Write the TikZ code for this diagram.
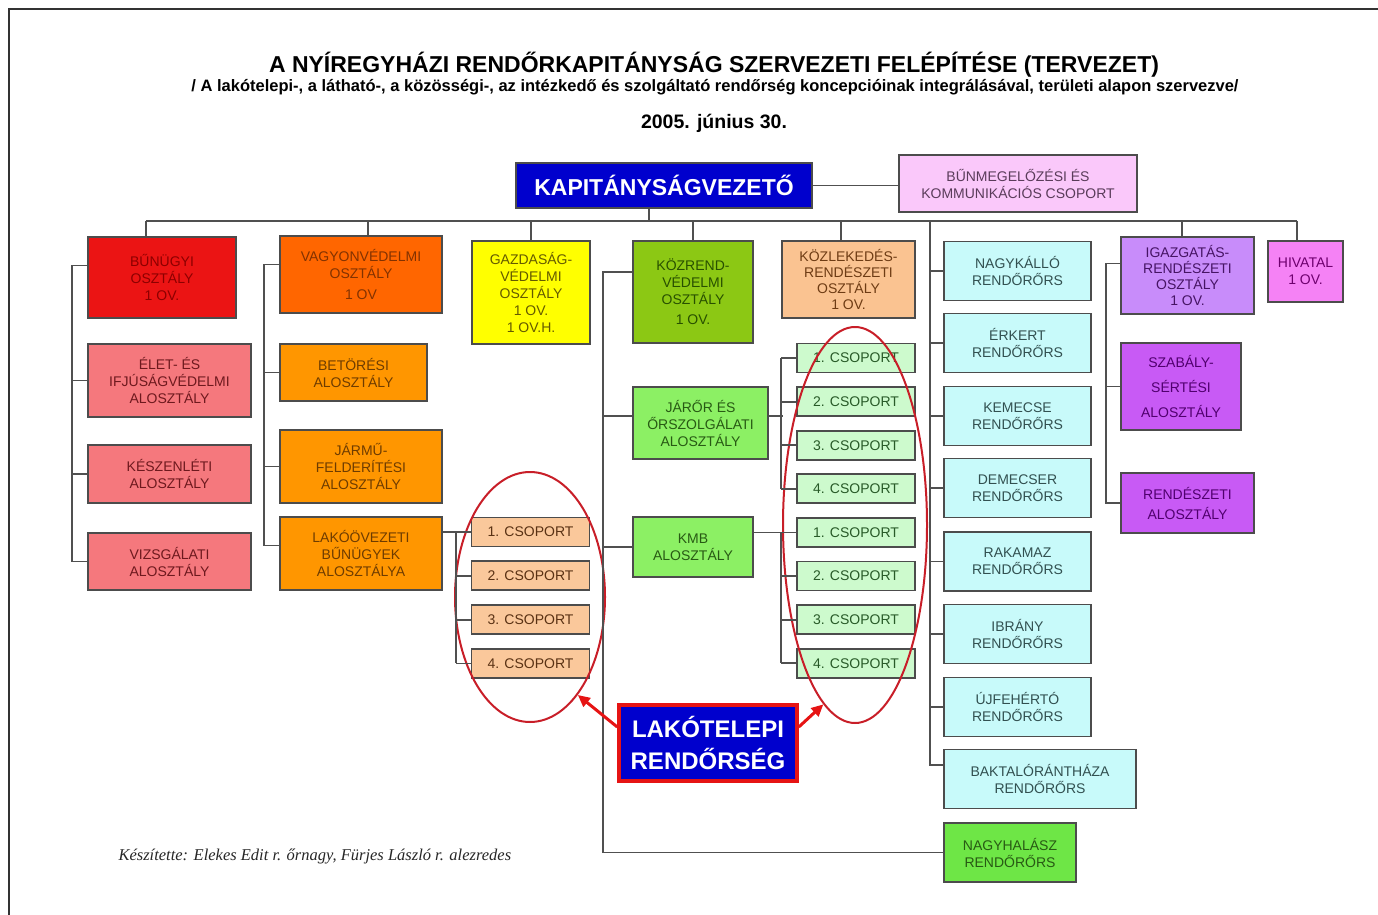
\documentclass[tikz,border=0pt]{standalone}
\usepackage{fontspec}
\setmainfont{Liberation Sans}
\newfontfamily\credfont{Liberation Serif}
\usetikzlibrary{positioning,
	shapes.geometric,
	arrows.meta}

\definecolor{kapcol}{RGB}{0,0,205}
\definecolor{bmkcol}{RGB}{250,200,250}
\definecolor{redcol}{RGB}{235,20,20}
\definecolor{salcol}{RGB}{245,120,125}
\definecolor{oracol}{RGB}{255,102,0}
\definecolor{orbcol}{RGB}{255,150,0}
\definecolor{yelcol}{RGB}{255,255,0}
\definecolor{olvcol}{RGB}{140,200,20}
\definecolor{lgrcol}{RGB}{140,240,100}
\definecolor{pchcol}{RGB}{250,195,145}
\definecolor{cyncol}{RGB}{200,250,250}
\definecolor{grncol}{RGB}{110,230,70}
\definecolor{lavcol}{RGB}{200,140,250}
\definecolor{viocol}{RGB}{200,90,245}
\definecolor{hivcol}{RGB}{245,130,245}
\definecolor{cslcol}{RGB}{250,200,155}
\definecolor{csrcol}{RGB}{205,250,205}
\definecolor{lncol}{RGB}{80,80,80}
\definecolor{ellcol}{RGB}{200,30,40}
\definecolor{arrcol}{RGB}{230,20,20}

\tikzstyle{bx}=[draw=black!70, line width=1.8pt, align=center, inner sep=0pt,
		font=\fontsize{14}{17}\selectfont]
\tikzstyle{kapb}=[bx, fill=kapcol, text=white, font=\bfseries\fontsize{23}{23}\selectfont]
\tikzstyle{lkt}=[bx, draw=arrcol, line width=3.5pt, fill=kapcol, text=white,
		font=\bfseries\fontsize{24}{32}\selectfont]
\tikzstyle{bmk}=[bx, fill=bmkcol, text={rgb,255:red,90;green,60;blue,90}]
\tikzstyle{bred}=[bx, fill=redcol, text={rgb,255:red,140;green,0;blue,0}]
\tikzstyle{salm}=[bx, fill=salcol, text={rgb,255:red,110;green,25;blue,30}]
\tikzstyle{ora}=[bx, fill=oracol, text={rgb,255:red,130;green,50;blue,0}]
\tikzstyle{orb}=[bx, fill=orbcol, text={rgb,255:red,110;green,60;blue,0}]
\tikzstyle{yel}=[bx, fill=yelcol, text={rgb,255:red,100;green,90;blue,0}]
\tikzstyle{olv}=[bx, fill=olvcol, text={rgb,255:red,40;green,80;blue,0}]
\tikzstyle{lgr}=[bx, fill=lgrcol, text={rgb,255:red,40;green,90;blue,20}]
\tikzstyle{pch}=[bx, fill=pchcol, text={rgb,255:red,110;green,60;blue,20}]
\tikzstyle{cyn}=[bx, fill=cyncol, text={rgb,255:red,50;green,80;blue,80},
		minimum width=147, minimum height=59]
\tikzstyle{grn}=[bx, fill=grncol, text={rgb,255:red,40;green,90;blue,20}]
\tikzstyle{lav}=[bx, fill=lavcol, text={rgb,255:red,70;green,20;blue,100}]
\tikzstyle{vio}=[bx, fill=viocol, text={rgb,255:red,80;green,0;blue,110}]
\tikzstyle{hiv}=[bx, fill=hivcol, text={rgb,255:red,110;green,0;blue,110}]
\tikzstyle{csl}=[bx, fill=cslcol, text={rgb,255:red,90;green,50;blue,20},
		minimum width=118, minimum height=29]
\tikzstyle{csr}=[bx, fill=csrcol, text={rgb,255:red,40;green,90;blue,40},
		minimum width=118, minimum height=29]
\tikzstyle{ell}=[ellipse, draw=ellcol, line width=2pt, inner sep=0pt]
\tikzstyle{ln}=[draw=lncol, line width=1.8pt]
\tikzstyle{arr}=[draw=arrcol, line width=3pt, -{Triangle[length=12pt, width=11pt]}]

\begin{document}
\begin{tikzpicture}[x=1pt, y=-1pt]
        \useasboundingbox (0,0) rectangle (1378,915);
        \draw[line width=2pt, black!80] (9,915) -- (9,9) -- (1378,9);

        \node[font=\bfseries\fontsize{23}{23}\selectfont] (title) at (714,65)
            {A NYÍREGYHÁZI RENDŐRKAPITÁNYSÁG SZERVEZETI FELÉPÍTÉSE (TERVEZET)};
        \node[font=\bfseries\fontsize{16.5}{16.5}\selectfont] (sub) at (715,87)
            {/ A lakótelepi-, a látható-, a közösségi-, az intézkedő és szolgáltató rendőrség koncepcióinak integrálásával, területi alapon szervezve/};
        \node[font=\bfseries\fontsize{19.5}{19.5}\selectfont] (date) at (714,123) {2005. június 30.};

        \node[kapb, minimum width=296, minimum height=45] (kap) at (664,185.5) {KAPITÁNYSÁGVEZETŐ};
        \node[bmk, minimum width=238, minimum height=57] (bmk) at (1018,183.5) {BŰNMEGELŐZÉSI ÉS\\KOMMUNIKÁCIÓS CSOPORT};

        \node[bred, minimum width=148, minimum height=81] (bunugyi) at (162,277.5) {BŰNÜGYI\\OSZTÁLY\\1 OV.};
        \node[salm, minimum width=163, minimum height=73] (elet) at (169.5,380.5) {ÉLET- ÉS\\IFJÚSÁGVÉDELMI\\ALOSZTÁLY};
        \node[salm, minimum width=163, minimum height=58] (keszen) at (169.5,474) {KÉSZENLÉTI\\ALOSZTÁLY};
        \node[salm, minimum width=163, minimum height=57] (vizsg) at (169.5,561.5) {VIZSGÁLATI\\ALOSZTÁLY};

        \node[ora, minimum width=162, minimum height=77] (vagyon) at (361,274.5) {VAGYONVÉDELMI\\OSZTÁLY\\[4pt]1 OV};
        \node[orb, minimum width=147, minimum height=57] (betor) at (353.5,372.5) {BETÖRÉSI\\ALOSZTÁLY};
        \node[orb, minimum width=162, minimum height=73] (jarmu) at (361,466.5) {JÁRMŰ-\\FELDERÍTÉSI\\ALOSZTÁLY};
        \node[orb, minimum width=162, minimum height=73] (lako) at (361,553.5) {LAKÓÖVEZETI\\BŰNÜGYEK\\ALOSZTÁLYA};

        \node[yel, minimum width=118, minimum height=103] (gazd) at (531,292.5) {GAZDASÁG-\\VÉDELMI\\OSZTÁLY\\1 OV.\\1 OV.H.};
        \node[olv, minimum width=120, minimum height=102] (kozrend) at (693,292) {KÖZREND-\\VÉDELMI\\OSZTÁLY\\[3pt]1 OV.};
        \node[lgr, minimum width=135, minimum height=72] (jaror) at (700.5,423) {JÁRŐR ÉS\\ŐRSZOLGÁLATI\\ALOSZTÁLY};
        \node[lgr, minimum width=120, minimum height=60] (kmb) at (693,547) {KMB\\ALOSZTÁLY};
        \node[pch, minimum width=133, minimum height=77, font=\fontsize{14}{16}\selectfont] (kozl) at (848.5,279.5) {KÖZLEKEDÉS-\\RENDÉSZETI\\OSZTÁLY\\1 OV.};

        \foreach \i in {1,...,8} {
            \pgfmathtruncatemacro\j{mod(\i-1,4)+1}
            \node[csr] (rcs\i) at (856,{358+43.6*(\i-1)}) {\j. CSOPORT};
        }
        \foreach \i in {1,...,4}
            \node[csl] (lcs\i) at (530.5,{532+43.8*(\i-1)}) {\i. CSOPORT};

        \foreach \n/\y/\t in {nagyk/271/NAGYKÁLLÓ, erkert/343/ÉRKERT, kemecse/416/KEMECSE,
                demecser/488/DEMECSER, rakamaz/561.5/RAKAMAZ, ibrany/634/IBRÁNY, ujfeher/707/ÚJFEHÉRTÓ}
            \node[cyn] (\n) at (1017.5,\y) {\t\\RENDŐRŐRS};
        \node[cyn, minimum width=192] (bakta) at (1040,779) {BAKTALÓRÁNTHÁZA\\RENDŐRŐRS};
        \node[grn, minimum width=132, minimum height=59] (nagyh) at (1010,852.5) {NAGYHALÁSZ\\RENDŐRŐRS};

        \node[lav, minimum width=133, minimum height=77, font=\fontsize{14}{16}\selectfont] (igazg) at (1187.5,275.5) {IGAZGATÁS-\\RENDÉSZETI\\OSZTÁLY\\1 OV.};
        \node[vio, minimum width=120, minimum height=87] (szabs) at (1181,386.5) {SZABÁLY-\\[8pt]SÉRTÉSI\\[8pt]ALOSZTÁLY};
        \node[vio, minimum width=133, minimum height=60] (rendal) at (1187.5,503) {RENDÉSZETI\\[3pt]ALOSZTÁLY};
        \node[hiv, minimum width=75, minimum height=61] (hivatal) at (1305.5,271.5) {HIVATAL\\1 OV.};

        \node[lkt, minimum width=178, minimum height=76] (lakot) at (708,743) {LAKÓTELEPI\\RENDŐRSÉG};
        \node[ell, minimum width=150, minimum height=250] (lell) at (530,597) {};
        \node[ell, minimum width=144, minimum height=396] (rell) at (855,525) {};

        \node[font=\credfont\itshape\fontsize{16.5}{16.5}\selectfont, text=black!85, anchor=west] (cred) at (115,856)
            {Készítette: Elekes Edit r. őrnagy, Fürjes László r. alezredes};

        \coordinate (busl) at (146,221);
        \coordinate (busr) at (1297,221);
        \coordinate (ors) at (930,221);
        \draw[ln] (busl) -- (busr);
        \draw[ln] (busl) -- (busl |- bunugyi.north);
        \draw[ln] (busr) -- (busr |- hivatal.north);
        \draw[ln] ([xshift=-15pt]kap.south) -- ++(0,13);
        \draw[ln] (kap.east) -- (kap.east -| bmk.west);
        \draw[ln] ([xshift=7pt]vagyon.north) -- ++(0,-15);
        \draw[ln] (gazd.north) -- ++(0,-20);
        \draw[ln] (kozrend.north) -- ++(0,-20);
        \draw[ln] ([xshift=-7.5pt]kozl.north) -- ++(0,-20);
        \draw[ln] ([xshift=-5.5pt]igazg.north) -- ++(0,-16);

        \draw[ln] ([yshift=12pt]bunugyi.west) -- ++(-15,0) |- (vizsg.west);
        \draw[ln] (elet.west) -- ++(-15,0);
        \draw[ln] (keszen.west) -- ++(-15,0);

        \draw[ln] ([yshift=10pt]vagyon.west) -- ++(-15,0) |- ([yshift=8pt]lako.west);
        \draw[ln] (betor.west) -- ++(-15,0);
        \draw[ln] (jarmu.west) -- ++(-15,0);

        \draw[ln] (lcs1.west) -- (lcs1.west -| lako.east);
        \foreach \i in {2,3,4}
            \draw[ln] (lcs\i.west) -- ++(-15,0);
        \draw[ln] ([xshift=-15pt]lcs1.west) -- ([xshift=-15pt]lcs4.west);

        \draw[ln] ([yshift=20pt]kozrend.west) -- ++(-29,0) |- (nagyh.west);
        \draw[ln] ([yshift=7pt]jaror.west) -- ++(-29,0);
        \draw[ln] (kmb.west) -- ++(-29,0);

        \foreach \i in {1,...,8}
            \draw[ln] (rcs\i.west) -- ++(-15,0);
        \draw[ln] ([xshift=-15pt]rcs1.west) -- ([xshift=-15pt]rcs4.west);
        \draw[ln] ([xshift=-15pt]rcs5.west) -- ([xshift=-15pt]rcs8.west);
        \draw[ln] ([yshift=7pt]jaror.east) -- ++(14,0);
        \draw[ln] (rcs5.west) -- (rcs5.west -| kmb.east);

        \draw[ln] (ors) |- ([yshift=14pt]bakta.west);
        \foreach \n in {nagyk,erkert,kemecse,demecser,rakamaz,ibrany,ujfeher}
            \draw[ln] (\n.west) -- (\n.west -| ors);

        \draw[ln] ([yshift=12pt]igazg.west) -- ++(-14,0) |- (rendal.west);
        \draw[ln] (szabs.west) -- ++(-14,0);

        \draw[arr] (lakot.170) -- (lell.-64);
        \draw[arr] (lakot.10) -- (rell.-100);
\end{tikzpicture}
\end{document}
